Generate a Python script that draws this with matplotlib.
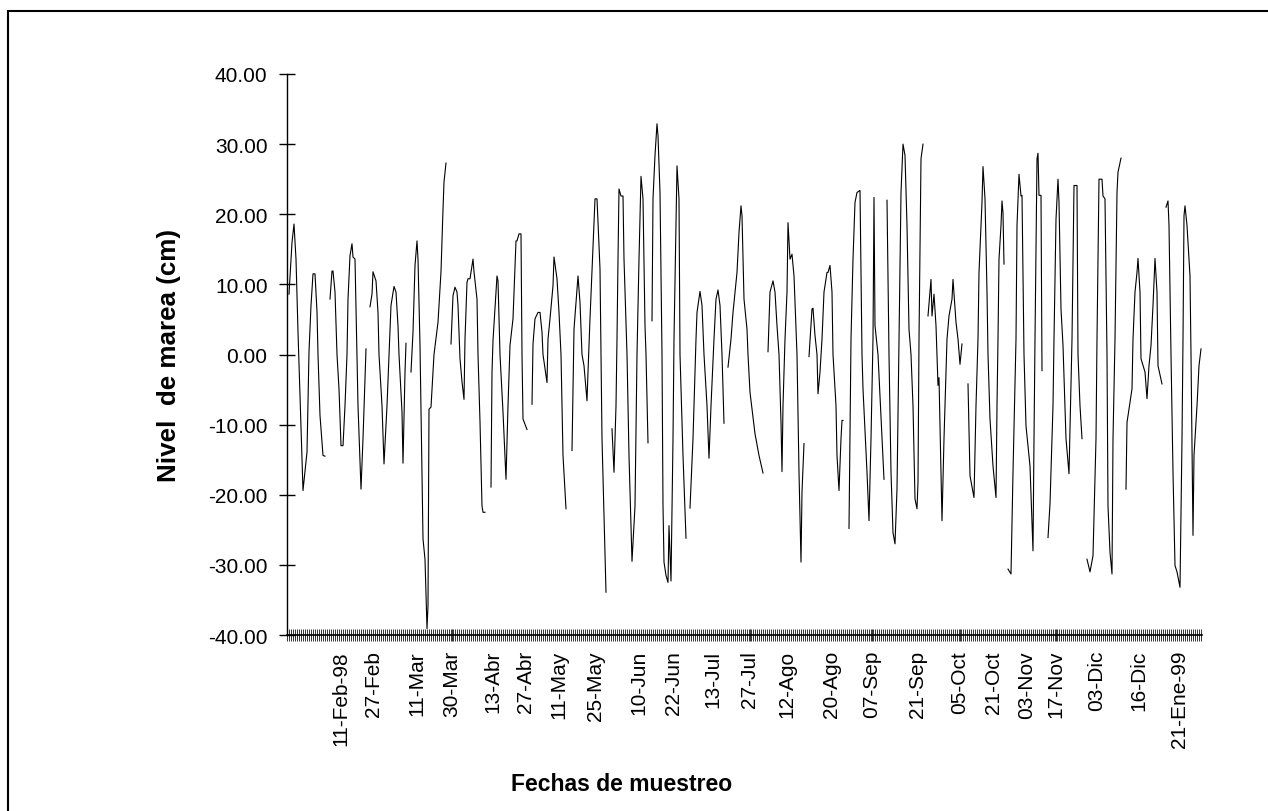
import numpy as np
import matplotlib
matplotlib.use("Agg")
import matplotlib.pyplot as plt
from matplotlib.ticker import MultipleLocator, FixedLocator, FixedFormatter
from matplotlib.patches import Rectangle

plt.rcParams['font.family'] = ['Liberation Sans', 'DejaVu Sans']

# numero de muestra y nivel de marea (cm); None = sin dato
muestra = [
    2, 5, 7, 9, 11, 16, 20, 22, 24, 26, 28, 30, 31, 33, 36, 38, None,
    43, 45, 46, 48, 50, 52, 54, 56, 58, 60, 61, 63, 65, 66, 68, 70, 71, 74, 76, 79, None,
    83, 85, 86, 89, 91, 92, 95, 97, 100, 102, 104, 107, 109, 111, 112, 115, 116, 118, 119, None,
    124, 126, 128, 130, 131, 133, 135, 136, 138, 140, 141, 142, 144, 146, 147, 151, 154, 156, 157, 159, None,
    164, 166, 168, 170, 171, 173, 175, 177, 178, 180, 181, 183, 185, 186, 187, 190, 191, 193, 195, 196, 198, None,
    204, 205, 206, 210, 211, 213, 216, 219, 221, 223, 226, 229, 230, 232, 234, 235, 236, 240, None,
    245, 246, 248, 251, 253, 255, 256, 260, 261, 263, 266, 267, 270, 272, 274, 276, 279, None,
    285, 287, 291, 293, 295, 297, 300, 301, 303, 306, 308, 310, 313, 315, 319, None,
    325, 327, 329, 330, 331, 332, 334, 336, 337, 340, 342, 345, 348, 350, 352, 354, 356, 358, 359, 361, None,
    365, 366, 368, 370, 371, 373, 375, 376, 377, 379, 381, 382, 384, 386, 387, 389, 390, 392, 393, 396, 399, None,
    403, 406, 409, 410, 413, 415, 417, 420, 422, 424, 427, 429, 431, 433, 435, 437, None,
    441, 444, 446, 450, 452, 454, 455, 457, 460, 461, 463, 468, 472, 476, None,
    481, 483, 486, 488, 490, 492, 494, 495, 496, 498, 500, 501, 503, 505, 507, 510, 512, 514, 515, 517, None,
    522, 525, 526, 528, 530, 531, 533, 535, 537, 540, 541, 543, 545, 546, 549, 550, 552, 554, 555, 556, None,
    562, 564, 566, 568, 570, 573, 575, 576, 580, 582, 584, 586, 587, 588, 591, 595, 597, None,
    600, 602, 604, 606, 608, 610, 612, 614, 616, 618, 620, 622, 624, 626, 628, 630, 631, 632, 634, 636, None,
    641, 644, 645, 647, 649, 650, 651, 652, 655, 657, 660, 662, 665, 666, 669, 671, 673, 675, None,
    681, 683, 687, 689, 691, 692, 695, 696, 698, 700, 701, 703, 706, 709, 710, 711, 712, 714, 715, 716, 717, None,
    721, 724, 726, 729, 730, 732, 734, 735, 737, 739, 743, 746, 747, 748, 750, 751, 752, 754, 755, None,
    761, 763, 766, 767, 769, 771, 772, 774, 776, 779, 782, 785, 786, 787, 790, 791, 793, 795, None,
    800, 803, 806, 809, 810, 812, 815, 816, 818, 820, 821, 823, 825, 826, 828, 830, 831, 834, None,
    839, 840, 843, 845, 846, 848, 850, 851, 853, 854, 858, 860, 862, 864, 866, 868, 870, 871, 875, None,
    879, 881, 882, 884, 886, 888, 890, 893, 895, 896, 897, 898, 900, 903, 904, 906, 907, 910, 912, 914,
]
nivel = [
    8.6, 16.0, 18.6, 13.6, 3.2, -19.4, -13.9, 0.4, 7.0, 11.5, 11.5, 6.1, 0.0, -8.7, -14.4, -14.5, None,
    7.9, 11.9, 11.9, 8.9, 0.0, -4.9, -13.0, -13.0, -7.3, 0.0, 7.9, 14.1, 15.8, 13.9, 13.6, 0.0, -7.3, -19.2, -12.0, 0.8, None,
    6.8, 8.6, 11.8, 10.5, 6.0, 0.0, -7.3, -15.6, -7.3, 0.0, 7.0, 9.7, 8.9, 4.1, 0.0, -8.2, -15.5, -2.5, 1.6, None,
    -2.5, 3.2, 12.7, 16.2, 13.6, 1.3, -16.8, -26.3, -29.2, -39.1, -35.8, -7.8, -7.5, -2.5, 0.0, 4.6, 11.8, 20.7, 24.6, 27.3, None,
    1.5, 8.4, 9.6, 8.9, 7.0, -0.6, -3.9, -6.4, 2.2, 10.3, 10.8, 10.8, 12.7, 13.6, 11.8, 7.9, 0.0, -9.6, -21.6, -22.5, -22.5, None,
    -18.9, -2.5, 2.0, 11.2, 10.5, 0.0, -8.2, -17.8, -7.3, 1.3, 5.1, 16.2, 16.2, 17.2, 17.2, 0.0, -9.2, -10.7, None,
    -7.1, 1.5, 5.1, 6.0, 6.0, 3.2, 0.0, -4.0, 2.2, 5.1, 9.8, 13.9, 10.8, 6.0, 0.0, -14.4, -22.0, None,
    -13.7, 3.6, 11.2, 7.4, 0.0, -1.6, -6.6, -2.5, 5.1, 15.5, 22.2, 22.2, 12.2, -12.0, -33.9, None,
    -10.6, -16.8, -7.3, 2.2, 13.6, 23.6, 22.6, 22.6, 13.6, 0.0, -14.4, -29.5, -21.6, 0.0, 13.6, 25.4, 22.2, 4.1, 0.0, -12.6, None,
    4.8, 22.2, 28.4, 32.9, 31.2, 23.1, 0.0, -21.6, -29.6, -31.5, -32.5, -24.4, -32.3, -12.0, 2.2, 18.4, 26.9, 22.2, 0.0, -14.4, -26.2, None,
    -21.9, -12.0, 2.2, 6.0, 9.0, 7.0, 0.0, -7.3, -14.8, -7.3, 2.2, 7.9, 9.2, 7.0, 0.0, -9.8, None,
    -1.8, 2.2, 6.0, 11.7, 17.4, 21.2, 19.8, 7.9, 3.6, 0.0, -5.4, -11.3, -14.4, -16.9, None,
    0.4, 8.9, 10.5, 8.9, 4.1, 0.0, -9.7, -16.7, -7.3, 2.2, 8.9, 18.8, 13.6, 14.3, 11.2, 0.0, -16.8, -29.6, -19.6, -12.7, None,
    -0.3, 6.5, 6.6, 2.7, 0.0, -5.6, -2.5, 2.2, 8.9, 11.7, 11.7, 12.7, 8.9, 0.0, -7.3, -14.4, -19.4, -12.0, -9.4, -9.4, None,
    -24.8, 2.2, 13.6, 21.7, 23.1, 23.4, 0.0, -4.9, -16.8, -23.7, -12.0, 2.2, 22.4, 4.1, 0.0, -12.0, -17.8, None,
    22.0, 0.0, -16.8, -25.4, -27.0, -19.2, 2.2, 23.1, 30.0, 28.4, 18.4, 3.6, 0.0, -7.3, -20.6, -22.0, -18.2, 2.2, 27.9, 30.0, None,
    5.5, 10.7, 5.5, 8.6, 4.1, 0.0, -4.4, -3.3, -23.7, -12.0, 2.2, 5.5, 7.9, 10.7, 4.6, 2.2, -1.4, 1.5, None,
    -4.2, -17.3, -20.4, -7.3, 2.2, 11.7, 21.7, 26.8, 22.2, 8.9, 0.0, -9.2, -15.9, -20.4, -7.3, 2.2, 13.6, 18.4, 21.9, 20.2, 12.9, None,
    -30.6, -31.3, -16.8, 2.2, 18.4, 25.7, 22.6, 22.7, 0.0, -10.2, -15.9, -28.0, -12.0, 2.2, 27.9, 28.7, 22.7, 22.7, -2.3, None,
    -26.1, -21.3, -7.3, 2.2, 19.3, 25.0, 21.7, 6.5, 1.3, -12.0, -17.0, 2.2, 13.6, 24.1, 24.1, 0.0, -7.3, -12.0, None,
    -29.2, -31.0, -28.7, -12.0, 2.2, 25.0, 25.0, 22.6, 22.2, 0.0, -21.6, -28.2, -31.3, -12.0, 2.2, 23.1, 26.0, 28.0, None,
    -19.2, -9.7, -6.8, -4.9, 2.2, 8.9, 11.7, 13.7, 8.9, -0.6, -2.5, -6.3, -1.6, 1.3, 7.0, 13.7, 8.9, -1.6, -4.2, None,
    21.0, 21.9, 18.4, 0.0, -16.8, -30.1, -31.0, -33.2, -12.0, 2.2, 19.8, 21.2, 18.4, 11.2, 0.0, -25.8, -14.4, -7.3, -1.6, 0.8,
]

fechas = ['11-Feb-98', '27-Feb', '11-Mar', '30-Mar', '13-Abr', '27-Abr', '11-May',
          '25-May', '10-Jun', '22-Jun', '13-Jul', '27-Jul', '12-Ago', '20-Ago',
          '07-Sep', '21-Sep', '05-Oct', '21-Oct', '03-Nov', '17-Nov', '03-Dic',
          '16-Dic', '21-Ene-99']
pos_fechas = [54, 86, 130, 165, 206, 238, 272, 308, 352, 386, 426, 463, 500, 544,
              585, 630, 673, 706, 740, 769, 810, 852, 892]

x = np.array([np.nan if v is None else v for v in muestra], dtype=float)
y = np.array([np.nan if v is None else v for v in nivel], dtype=float)

W, H = 1268, 812
fig = plt.figure(figsize=(W / 100, H / 100), dpi=100)
ax = fig.add_axes([287 / W, 1 - 636 / H, 915 / W, (636 - 75) / H])

ax.plot(x, y, color='black', lw=0.8)

ax.set_xlim(0, 915)
ax.set_ylim(-40, 40)
ax.set_yticks(np.arange(-40, 41, 10))
ax.set_yticklabels(['%.2f' % v for v in np.arange(-40, 41, 10)])

ax.xaxis.set_major_locator(FixedLocator(pos_fechas))
ax.xaxis.set_major_formatter(FixedFormatter(fechas))
ax.xaxis.set_minor_locator(MultipleLocator(2.0))

for s in ['top', 'right']:
    ax.spines[s].set_visible(False)
ax.spines['left'].set_linewidth(1.0)
ax.spines['bottom'].set_linewidth(1.2)

ax.tick_params(axis='y', direction='inout', length=12, width=1.0, pad=8,
               labelsize=15)
ax.tick_params(axis='x', which='major', direction='inout', length=8.6, width=0.7,
               color='#333333', pad=6.5, labelsize=15, labelrotation=90)
ax.tick_params(axis='x', which='minor', direction='inout', length=8.6, width=0.7,
               color='#333333')
for lbl in ax.get_xticklabels():
    lbl.set_verticalalignment('top')

ax.set_ylabel('Nivel  de marea (cm)', fontsize=18.7, fontweight='bold')
ax.yaxis.set_label_coords((181 - 287) / 915, 0.5)
fig.text(622 / W, 1 - 785 / H, 'Fechas de muestreo', fontsize=16.5,
         fontweight='bold', ha='center', va='center')

fig.patches.append(Rectangle((8 / W, -0.05), 1.1, 1.05 - 12 / H, transform=fig.transFigure,
                             fill=False, edgecolor='black', lw=1.5))

fig.savefig('out.png', dpi=100)
